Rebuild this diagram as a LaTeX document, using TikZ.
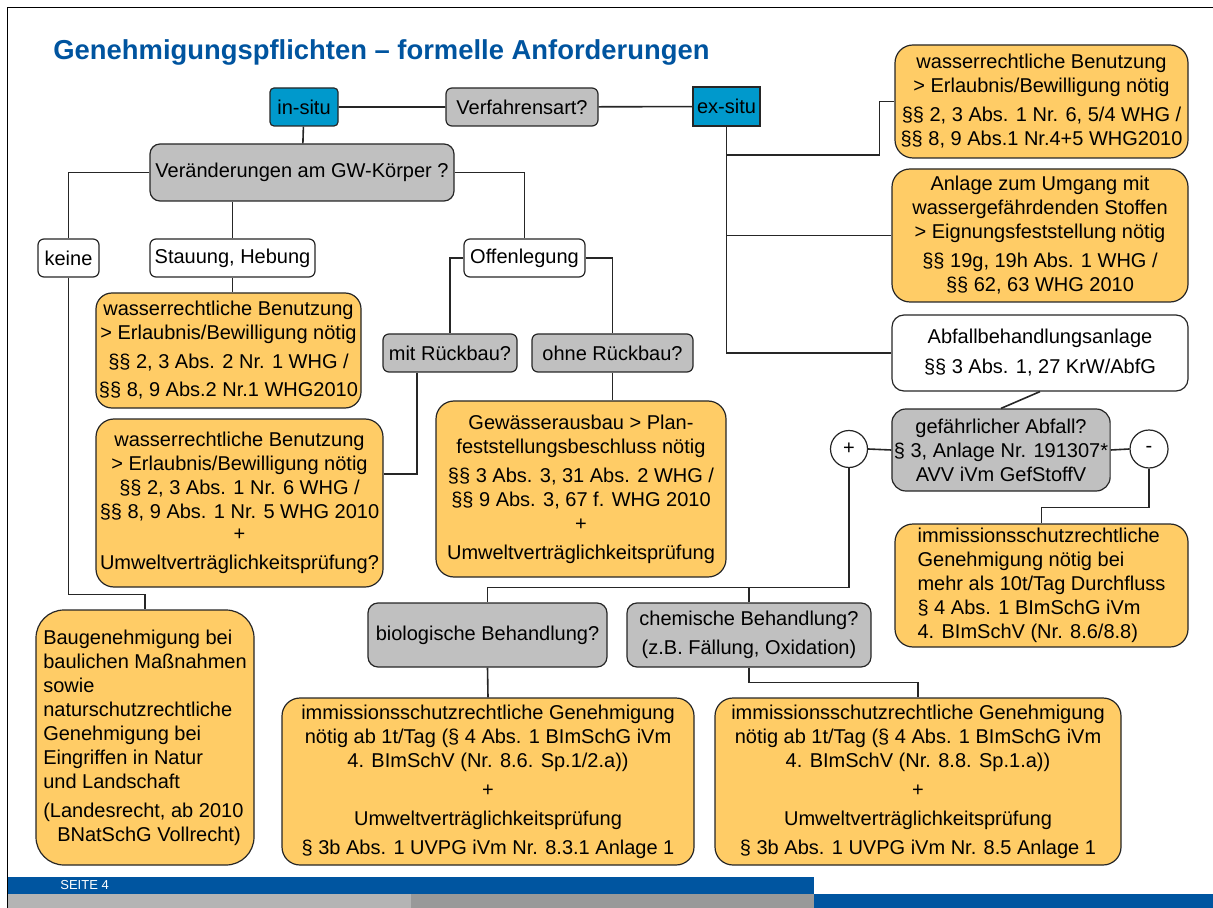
\documentclass[tikz,border=0pt]{standalone}
\usepackage{fontspec}
\setmainfont{Liberation Sans}
\usetikzlibrary{positioning, calc}

\definecolor{situblue}{RGB}{0,153,204}
\definecolor{qgrey}{RGB}{192,192,192}
\definecolor{lawor}{RGB}{255,204,102}
\definecolor{titleblue}{RGB}{0,84,159}
\definecolor{barblue}{RGB}{0,85,160}
\definecolor{barlight}{RGB}{180,180,180}
\definecolor{bardark}{RGB}{153,153,153}

\begin{document}
\begin{tikzpicture}[
    x=0.5pt, y=-0.5pt,
    every node/.style={font=\fontsize{10}{12}\selectfont, align=center, inner sep=1pt},
    boxline/.style={draw=black!85, line width=0.6pt},
    graybox/.style={boxline, fill=qgrey, rounded corners=3pt},
    plainbox/.style={boxline, fill=white, rounded corners=3pt},
    lawbox/.style={boxline, fill=lawor, rounded corners=9pt},
    situbox/.style={boxline, fill=situblue},
    sign/.style={boxline, fill=white, circle, inner sep=0pt},
    conn/.style={draw=black!85, line width=0.8pt}
]
    \useasboundingbox (0,0) rectangle (1213,908);

    % ---- frame and title ----
    \draw[line width=0.9pt] (7.5,908) -- (7.5,7.5) -- (1213,7.5);
    \node[anchor=base west, font=\fontsize{13.7}{16}\selectfont\bfseries, text=titleblue, inner sep=0pt]
        (title) at (53,60) {Genehmigungspflichten -- formelle Anforderungen};

    % ---- Verfahrensart ----
    \node[situbox, rounded corners=2pt, minimum width=34pt, minimum height=19pt] (insitu) at (304,107) {in-situ};
    \node[graybox, minimum width=76pt, minimum height=19pt] (verf) at (522,107) {Verfahrensart?};
    \node[situbox, minimum width=33.5pt, minimum height=19.5pt] (exsitu) at (726.5,106.5) {ex-situ};

    % ---- in-situ ----
    \node[graybox, rounded corners=5pt, minimum width=152pt, minimum height=28.5pt] (vera) at (302,172.5) {Veränderungen am GW-Körper ?};
    \node[plainbox, minimum width=30.5pt, minimum height=19pt] (keine) at (68.5,258) {keine};
    \node[plainbox, minimum width=82.5pt, minimum height=19pt] (stau) at (232.5,258) {Stauung, Hebung};
    \node[plainbox, minimum width=60.5pt, minimum height=19pt] (offen) at (524.5,258) {Offenlegung};
    \node[graybox, minimum width=67pt, minimum height=19pt] (mit) at (450,353) {mit Rückbau?};
    \node[graybox, minimum width=80.5pt, minimum height=19pt] (ohne) at (612.5,353) {ohne Rückbau?};

    \node[lawbox, rounded corners=8pt, minimum width=132.5pt, minimum height=57.5pt] (wr1) at (228.5,350.5) {
        wasserrechtliche Benutzung\\
        > Erlaubnis/Bewilligung nötig\\[2.5pt]
        §§ 2, 3 Abs. 2 Nr. 1 WHG /\\[2pt]
        §§ 8, 9 Abs.2 Nr.1 WHG2010
    };
    \node[lawbox, minimum width=143.5pt, minimum height=84pt] (wr2) at (239.5,503) {
        wasserrechtliche Benutzung\\
        > Erlaubnis/Bewilligung nötig\\
        §§ 2, 3 Abs. 1 Nr. 6 WHG /\\
        §§ 8, 9 Abs. 1 Nr. 5 WHG 2010\\[-1pt]
        +\\[2.5pt]
        Umweltverträglichkeitsprüfung?
    };
    \node[lawbox, minimum width=145pt, minimum height=88pt] (gew) at (581,489) {
        Gewässerausbau > Plan-\\
        feststellungsbeschluss nötig\\[2.5pt]
        §§ 3 Abs. 3, 31 Abs. 2 WHG /\\
        §§ 9 Abs. 3, 67 f. WHG 2010\\
        +\\[2.5pt]
        Umweltverträglichkeitsprüfung
    };
    \node[lawbox, rounded corners=14pt, align=left, minimum width=109pt, minimum height=127.5pt] (bau) at (145,737.5) {
        Baugenehmigung bei\\
        baulichen Maßnahmen\\
        sowie\\
        naturschutzrechtliche\\
        Genehmigung bei\\
        Eingriffen in Natur\\
        und Landschaft\\[2.5pt]
        (Landesrecht, ab 2010\\
        \hspace*{7pt}BNatSchG Vollrecht)
    };

    % ---- Behandlung ----
    \node[graybox, rounded corners=5pt, minimum width=119.5pt, minimum height=32pt] (bio) at (487.5,635) {biologische Behandlung?};
    \node[graybox, rounded corners=5pt, minimum width=122pt, minimum height=32pt] (chem) at (749,635) {
        chemische Behandlung?\\[2.5pt]
        (z.B. Fällung, Oxidation)
    };
    \node[lawbox, minimum width=206pt, minimum height=83.5pt] (biores) at (488,781.5) {
        immissionsschutzrechtliche Genehmigung\\
        nötig ab 1t/Tag (§ 4 Abs. 1 BImSchG iVm\\
        4. BImSchV (Nr. 8.6. Sp.1/2.a))\\[2.5pt]
        +\\[2.5pt]
        Umweltverträglichkeitsprüfung\\[2.5pt]
        § 3b Abs. 1 UVPG iVm Nr. 8.3.1 Anlage 1
    };
    \node[lawbox, minimum width=203pt, minimum height=83.5pt] (chemres) at (918,781.5) {
        immissionsschutzrechtliche Genehmigung\\
        nötig ab 1t/Tag (§ 4 Abs. 1 BImSchG iVm\\
        4. BImSchV (Nr. 8.8. Sp.1.a))\\[2.5pt]
        +\\[2.5pt]
        Umweltverträglichkeitsprüfung\\[2.5pt]
        § 3b Abs. 1 UVPG iVm Nr. 8.5 Anlage 1
    };

    % ---- ex-situ ----
    \node[lawbox, minimum width=146.5pt, minimum height=56.5pt] (wra) at (1041.5,101.5) {
        wasserrechtliche Benutzung\\
        > Erlaubnis/Bewilligung nötig\\[2.5pt]
        §§ 2, 3 Abs. 1 Nr. 6, 5/4 WHG /\\
        §§ 8, 9 Abs.1 Nr.4+5 WHG2010
    };
    \node[lawbox, minimum width=148pt, minimum height=66.5pt] (anl) at (1040,235.5) {
        Anlage zum Umgang mit\\
        wassergefährdenden Stoffen\\
        > Eignungsfeststellung nötig\\[2.5pt]
        §§ 19g, 19h Abs. 1 WHG /\\
        §§ 62, 63 WHG 2010
    };
    \node[plainbox, rounded corners=6pt, minimum width=148pt, minimum height=38pt] (abf) at (1040,353) {
        Abfallbehandlungsanlage\\[3pt]
        §§ 3 Abs. 1, 27 KrW/AbfG
    };
    \node[graybox, rounded corners=7pt, minimum width=109pt, minimum height=41pt] (gef) at (1001,450) {
        gefährlicher Abfall?\\
        § 3, Anlage Nr. 191307*\\
        AVV iVm GefStoffV
    };
    \node[sign, minimum size=18.5pt] (plus) at (849,449) {+};
    \node[sign, minimum size=19pt] (minus) at (1149,449) {-};
    \node[lawbox, align=left, minimum width=146.5pt, minimum height=61.5pt] (immr) at (1041.5,585.5) {
        immissionsschutzrechtliche\\
        Genehmigung nötig bei\\
        mehr als 10t/Tag Durchfluss\\
        § 4 Abs. 1 BImSchG iVm\\
        4. BImSchV (Nr. 8.6/8.8)
    };

    % ---- Verbindungen ----
    \draw[conn] (insitu) -- (verf) -- (exsitu);
    \draw[conn] (insitu) -- (vera);
    \draw[conn] (vera.west) -| (keine.north);
    \draw[conn] (stau.north) -- (stau.north |- vera.south);
    \draw[conn] (vera.east) -| (offen.north);
    \draw[conn] (stau.south) -- (stau.south |- wr1.north);
    \draw[conn] (offen.west) -| (mit.north);
    \draw[conn] (offen.east) -| (ohne.north);
    \draw[conn] (ohne.south) -- (ohne.south |- gew.north);
    \draw[conn] ([xshift=-16.5pt]mit.south) |- ([yshift=14.5pt]wr2.east);
    \draw[conn] (keine.south) |- ([yshift=7.5pt]bau.north) -- (bau.north);

    \coordinate (bend) at (879.5,155);
    \draw[conn] (exsitu.south) |- (abf.west);
    \draw[conn] (exsitu.south |- anl.west) -- (anl.west);
    \draw[conn] (exsitu.south |- bend) -- (bend) |- (wra.west);
    \draw[conn] (abf.south) -- (gef.north);
    \draw[conn] (plus.east) -- (gef.west);
    \draw[conn] (gef.east) -- (minus.west);
    \draw[conn] (minus.south) |- ([yshift=8pt]immr.north) -- (immr.north);
    \draw[conn] (plus.south) |- ([yshift=7.5pt]bio.north) -- (bio.north);
    \draw[conn] (chem.north) -- ++(0,-15);
    \draw[conn] (bio.south) -- (biores.north);
    \draw[conn] (chem.south) |- ([yshift=7.5pt]chemres.north) -- (chemres.north);

    % ---- footer ----
    \fill[barblue] (8,877) rectangle (814,894);
    \fill[barlight] (8,894) rectangle (411,908);
    \fill[bardark] (411,894) rectangle (814,908);
    \fill[barblue] (814,894) rectangle (1213,908);
    \node[anchor=west, text=white, font=\fontsize{6.5}{7}\selectfont, inner sep=0pt] (page) at (60,885.5) {SEITE 4};

\end{tikzpicture}
\end{document}
